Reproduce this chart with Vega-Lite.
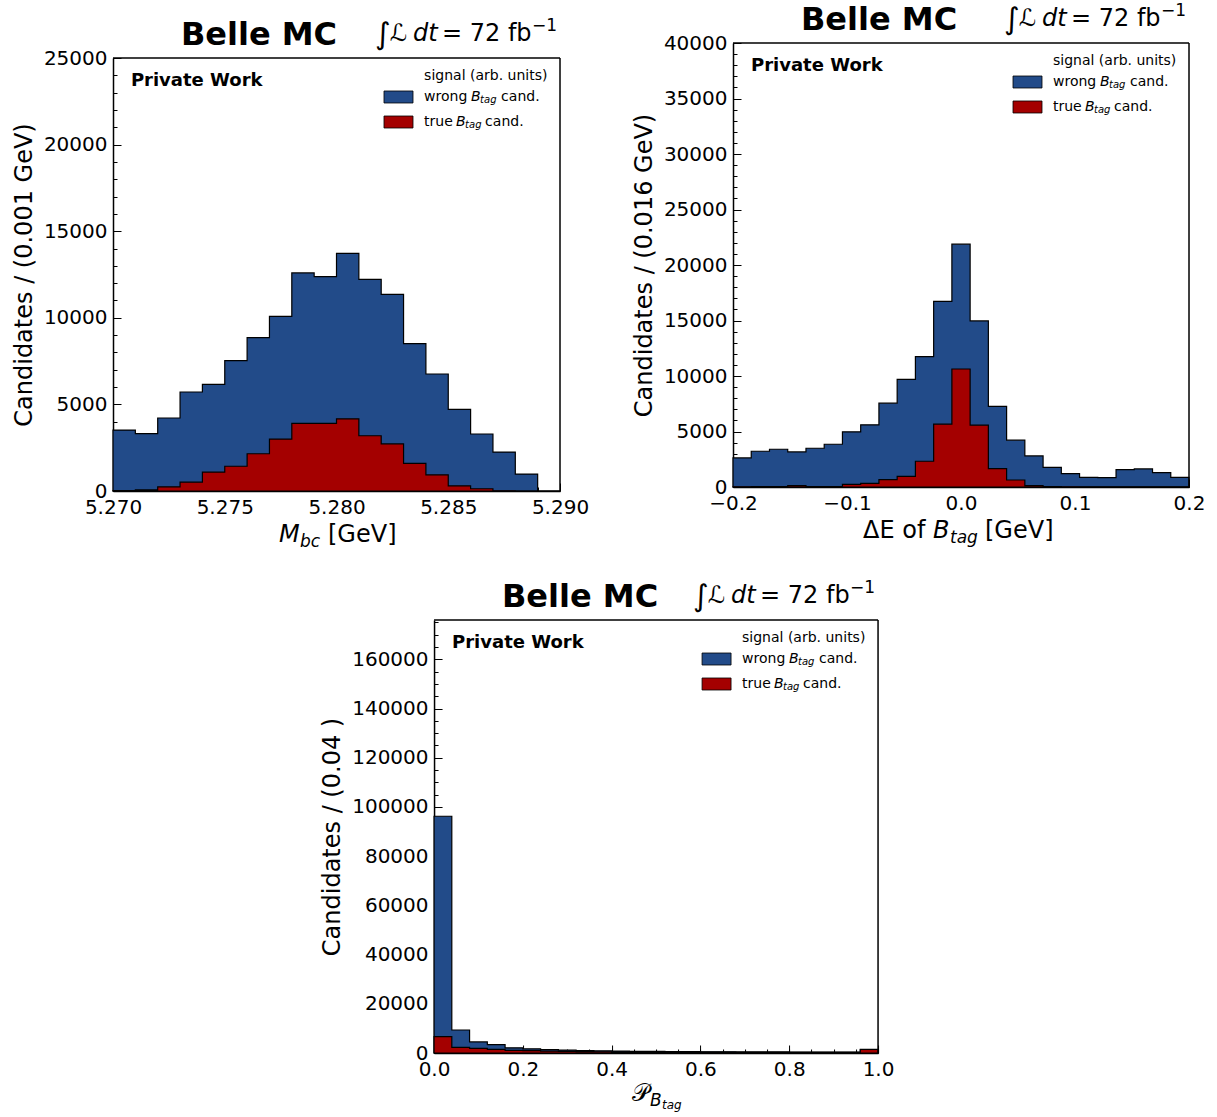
{
"$schema": "https://vega.github.io/schema/vega-lite/v6.json",
"background": "white",
"padding": {"left": 12, "top": 2, "right": 0, "bottom": 5},
"config": {
  "font": "DejaVu Sans",
  "view": {"stroke": null},
  "text": {"fill": "black", "font": "DejaVu Sans"},
  "axis": {"labelFont": "DejaVu Sans", "labelFontSize": 20, "labelColor": "black", "titleFont": "DejaVu Sans", "titleFontSize": 24, "titleFontWeight": "normal", "titleColor": "black", "domainColor": "black", "domainWidth": 1.5, "tickColor": "black", "tickWidth": 1, "grid": false, "labelFlush": false, "labelOverlap": false, "labelBound": false, "zindex": 1, "titlePadding": 7}
},
"datasets": {
  "one": [{}],
  "p1": [
    {"s":"wrong","a":5.27,"b":5.271,"n":3520},{"s":"wrong","a":5.271,"b":5.272,"n":3310},{"s":"wrong","a":5.272,"b":5.273,"n":4215},{"s":"wrong","a":5.273,"b":5.274,"n":5715},{"s":"wrong","a":5.274,"b":5.275,"n":6160},
    {"s":"wrong","a":5.275,"b":5.276,"n":7525},{"s":"wrong","a":5.276,"b":5.277,"n":8850},{"s":"wrong","a":5.277,"b":5.278,"n":10085},{"s":"wrong","a":5.278,"b":5.279,"n":12590},{"s":"wrong","a":5.279,"b":5.28,"n":12375},
    {"s":"wrong","a":5.28,"b":5.281,"n":13725},{"s":"wrong","a":5.281,"b":5.282,"n":12220},{"s":"wrong","a":5.282,"b":5.283,"n":11355},{"s":"wrong","a":5.283,"b":5.284,"n":8505},{"s":"wrong","a":5.284,"b":5.285,"n":6755},
    {"s":"wrong","a":5.285,"b":5.286,"n":4715},{"s":"wrong","a":5.286,"b":5.287,"n":3290},{"s":"wrong","a":5.287,"b":5.288,"n":2250},{"s":"wrong","a":5.288,"b":5.289,"n":980},{"s":"wrong","a":5.289,"b":5.29,"n":0},
    {"s":"true","a":5.27,"b":5.271,"n":30},{"s":"true","a":5.271,"b":5.272,"n":60},{"s":"true","a":5.272,"b":5.273,"n":240},{"s":"true","a":5.273,"b":5.274,"n":510},{"s":"true","a":5.274,"b":5.275,"n":1090},
    {"s":"true","a":5.275,"b":5.276,"n":1430},{"s":"true","a":5.276,"b":5.277,"n":2150},{"s":"true","a":5.277,"b":5.278,"n":3000},{"s":"true","a":5.278,"b":5.279,"n":3900},{"s":"true","a":5.279,"b":5.28,"n":3910},
    {"s":"true","a":5.28,"b":5.281,"n":4170},{"s":"true","a":5.281,"b":5.282,"n":3190},{"s":"true","a":5.282,"b":5.283,"n":2720},{"s":"true","a":5.283,"b":5.284,"n":1600},{"s":"true","a":5.284,"b":5.285,"n":935},
    {"s":"true","a":5.285,"b":5.286,"n":300},{"s":"true","a":5.286,"b":5.287,"n":130},{"s":"true","a":5.287,"b":5.288,"n":10},{"s":"true","a":5.288,"b":5.289,"n":0},{"s":"true","a":5.289,"b":5.29,"n":0}
  ],
  "p2": [
    {"s":"wrong","a":-0.2,"b":-0.184,"n":2620},{"s":"wrong","a":-0.184,"b":-0.168,"n":3220},{"s":"wrong","a":-0.168,"b":-0.152,"n":3400},{"s":"wrong","a":-0.152,"b":-0.136,"n":3160},{"s":"wrong","a":-0.136,"b":-0.12,"n":3490},
    {"s":"wrong","a":-0.12,"b":-0.104,"n":3850},{"s":"wrong","a":-0.104,"b":-0.088,"n":4970},{"s":"wrong","a":-0.088,"b":-0.072,"n":5600},{"s":"wrong","a":-0.072,"b":-0.056,"n":7555},{"s":"wrong","a":-0.056,"b":-0.04,"n":9690},
    {"s":"wrong","a":-0.04,"b":-0.024,"n":11740},{"s":"wrong","a":-0.024,"b":-0.008,"n":16730},{"s":"wrong","a":-0.008,"b":0.008,"n":21880},{"s":"wrong","a":0.008,"b":0.024,"n":14960},{"s":"wrong","a":0.024,"b":0.04,"n":7255},
    {"s":"wrong","a":0.04,"b":0.056,"n":4215},{"s":"wrong","a":0.056,"b":0.072,"n":2800},{"s":"wrong","a":0.072,"b":0.088,"n":1775},{"s":"wrong","a":0.088,"b":0.104,"n":1205},{"s":"wrong","a":0.104,"b":0.12,"n":875},
    {"s":"wrong","a":0.12,"b":0.136,"n":845},{"s":"wrong","a":0.136,"b":0.152,"n":1565},{"s":"wrong","a":0.152,"b":0.168,"n":1625},{"s":"wrong","a":0.168,"b":0.184,"n":1295},{"s":"wrong","a":0.184,"b":0.2,"n":875},
    {"s":"true","a":-0.2,"b":-0.184,"n":20},{"s":"true","a":-0.184,"b":-0.168,"n":30},{"s":"true","a":-0.168,"b":-0.152,"n":40},{"s":"true","a":-0.152,"b":-0.136,"n":120},{"s":"true","a":-0.136,"b":-0.12,"n":40},
    {"s":"true","a":-0.12,"b":-0.104,"n":40},{"s":"true","a":-0.104,"b":-0.088,"n":240},{"s":"true","a":-0.088,"b":-0.072,"n":330},{"s":"true","a":-0.072,"b":-0.056,"n":660},{"s":"true","a":-0.056,"b":-0.04,"n":960},
    {"s":"true","a":-0.04,"b":-0.024,"n":2320},{"s":"true","a":-0.024,"b":-0.008,"n":5660},{"s":"true","a":-0.008,"b":0.008,"n":10630},{"s":"true","a":0.008,"b":0.024,"n":5570},{"s":"true","a":0.024,"b":0.04,"n":1655},
    {"s":"true","a":0.04,"b":0.056,"n":630},{"s":"true","a":0.056,"b":0.072,"n":120},{"s":"true","a":0.072,"b":0.088,"n":30},{"s":"true","a":0.088,"b":0.104,"n":20},{"s":"true","a":0.104,"b":0.12,"n":10},
    {"s":"true","a":0.12,"b":0.136,"n":10},{"s":"true","a":0.136,"b":0.152,"n":10},{"s":"true","a":0.152,"b":0.168,"n":10},{"s":"true","a":0.168,"b":0.184,"n":10},{"s":"true","a":0.184,"b":0.2,"n":10}
  ],
  "p3": [
    {"s":"wrong","a":0,"b":0.04,"n":96240},{"s":"wrong","a":0.04,"b":0.08,"n":9340},{"s":"wrong","a":0.08,"b":0.12,"n":4500},{"s":"wrong","a":0.12,"b":0.16,"n":3400},{"s":"wrong","a":0.16,"b":0.2,"n":2100},
    {"s":"wrong","a":0.2,"b":0.24,"n":1700},{"s":"wrong","a":0.24,"b":0.28,"n":1400},{"s":"wrong","a":0.28,"b":0.32,"n":1200},{"s":"wrong","a":0.32,"b":0.36,"n":1000},{"s":"wrong","a":0.36,"b":0.4,"n":900},
    {"s":"wrong","a":0.4,"b":0.44,"n":800},{"s":"wrong","a":0.44,"b":0.48,"n":700},{"s":"wrong","a":0.48,"b":0.52,"n":650},{"s":"wrong","a":0.52,"b":0.56,"n":600},{"s":"wrong","a":0.56,"b":0.6,"n":550},
    {"s":"wrong","a":0.6,"b":0.64,"n":500},{"s":"wrong","a":0.64,"b":0.68,"n":480},{"s":"wrong","a":0.68,"b":0.72,"n":450},{"s":"wrong","a":0.72,"b":0.76,"n":430},{"s":"wrong","a":0.76,"b":0.8,"n":420},
    {"s":"wrong","a":0.8,"b":0.84,"n":400},{"s":"wrong","a":0.84,"b":0.88,"n":380},{"s":"wrong","a":0.88,"b":0.92,"n":380},{"s":"wrong","a":0.92,"b":0.96,"n":400},{"s":"wrong","a":0.96,"b":1,"n":1300},
    {"s":"true","a":0,"b":0.04,"n":6630},{"s":"true","a":0.04,"b":0.08,"n":2300},{"s":"true","a":0.08,"b":0.12,"n":1900},{"s":"true","a":0.12,"b":0.16,"n":1490},{"s":"true","a":0.16,"b":0.2,"n":1080},
    {"s":"true","a":0.2,"b":0.24,"n":950},{"s":"true","a":0.24,"b":0.28,"n":800},{"s":"true","a":0.28,"b":0.32,"n":680},{"s":"true","a":0.32,"b":0.36,"n":560},{"s":"true","a":0.36,"b":0.4,"n":500},
    {"s":"true","a":0.4,"b":0.44,"n":450},{"s":"true","a":0.44,"b":0.48,"n":420},{"s":"true","a":0.48,"b":0.52,"n":400},{"s":"true","a":0.52,"b":0.56,"n":380},{"s":"true","a":0.56,"b":0.6,"n":360},
    {"s":"true","a":0.6,"b":0.64,"n":340},{"s":"true","a":0.64,"b":0.68,"n":320},{"s":"true","a":0.68,"b":0.72,"n":310},{"s":"true","a":0.72,"b":0.76,"n":300},{"s":"true","a":0.76,"b":0.8,"n":290},
    {"s":"true","a":0.8,"b":0.84,"n":290},{"s":"true","a":0.84,"b":0.88,"n":280},{"s":"true","a":0.88,"b":0.92,"n":290},{"s":"true","a":0.92,"b":0.96,"n":300},{"s":"true","a":0.96,"b":1,"n":1500}
  ]
},
"spacing": 28,
"center": true,
"vconcat": [
 {"hconcat": [
  {"width": 447, "height": 448,
   "resolve": {"axis": {"x": "independent", "y": "independent"}},
   "layer": [
    {"data": {"name": "p1"}, "transform": [{"filter": "datum.s == 'wrong'"}, {"fold": ["a", "b"], "as": ["edge", "xv"]}],
     "mark": {"type": "area", "fill": "#224b89", "stroke": "black", "strokeWidth": 1.2},
     "encoding": {
       "x": {"field": "xv", "type": "quantitative", "scale": {"domain": [5.27, 5.29], "nice": false, "zero": false},
             "axis": {"orient": "bottom", "title": null, "values": [5.27, 5.275, 5.28, 5.285, 5.29], "format": ".3f", "tickSize": -8, "labelPadding": 14}},
       "y": {"field": "n", "type": "quantitative", "stack": null, "scale": {"domain": [0, 25000], "range": [448, 15], "nice": false},
             "axis": {"orient": "left", "title": "Candidates / (0.001 GeV)", "values": [0, 5000, 10000, 15000, 20000, 25000], "format": "d", "tickSize": -8, "labelPadding": 14}},
       "order": [{"field": "xv", "type": "quantitative"}, {"field": "edge", "type": "nominal", "sort": "descending"}]}},
    {"data": {"name": "p1"}, "transform": [{"filter": "datum.s == 'true'"}, {"fold": ["a", "b"], "as": ["edge", "xv"]}],
     "mark": {"type": "area", "fill": "#a40000", "stroke": "black", "strokeWidth": 1.2},
     "encoding": {
       "x": {"field": "xv", "type": "quantitative", "axis": {"orient": "bottom", "title": null, "labels": false, "domain": false, "tickSize": -4, "values": [5.27,5.271,5.272,5.273,5.274,5.275,5.276,5.277,5.278,5.279,5.28,5.281,5.282,5.283,5.284,5.285,5.286,5.287,5.288,5.289,5.29]}},
       "y": {"field": "n", "type": "quantitative", "stack": null, "axis": {"orient": "left", "title": null, "labels": false, "domain": false, "tickSize": -4, "values": [0,1000,2000,3000,4000,5000,6000,7000,8000,9000,10000,11000,12000,13000,14000,15000,16000,17000,18000,19000,20000,21000,22000,23000,24000,25000]}},
       "order": [{"field": "xv", "type": "quantitative"}, {"field": "edge", "type": "nominal", "sort": "descending"}]}},
    {"data": {"name": "one"}, "mark": {"type": "rule", "stroke": "black", "strokeWidth": 1.5}, "encoding": {"y": {"datum": 25000, "axis": null}}},
    {"data": {"name": "one"}, "mark": {"type": "rule", "stroke": "black", "strokeWidth": 1.5}, "encoding": {"x": {"datum": 5.29, "axis": null}, "y": {"datum": 0, "axis": null}, "y2": {"datum": 25000}}},
    {"data": {"name": "one"}, "mark": {"type": "text", "text": "Private Work", "fontWeight": "bold", "fontSize": 18, "align": "left", "baseline": "middle"}, "encoding": {"x": {"datum": 5.2708, "axis": null}, "y": {"datum": 23672, "axis": null}}},
    {"data": {"name": "one"}, "mark": {"type": "text", "text": "signal (arb. units)", "fontSize": 14, "align": "left", "baseline": "middle"}, "encoding": {"x": {"datum": 5.28392, "axis": null}, "y": {"datum": 23961, "axis": null}}},
    {"data": {"name": "one"}, "mark": {"type": "rect", "fill": "#224b89", "stroke": "black", "strokeWidth": 0.8}, "encoding": {"x": {"datum": 5.282125, "axis": null}, "x2": {"datum": 5.283423}, "y": {"datum": 23095, "axis": null}, "y2": {"datum": 22402}}},
    {"data": {"name": "one"}, "mark": {"type": "rect", "fill": "#a40000", "stroke": "black", "strokeWidth": 0.8}, "encoding": {"x": {"datum": 5.282125, "axis": null}, "x2": {"datum": 5.283423}, "y": {"datum": 21651, "axis": null}, "y2": {"datum": 20958}}},
    {"data": {"name": "one"}, "mark": {"type": "text", "text": "wrong", "fontSize": 14, "align": "left", "baseline": "middle"}, "encoding": {"x": {"datum": 5.28392, "axis": null}, "y": {"datum": 22748, "axis": null}}},
    {"data": {"name": "one"}, "mark": {"type": "text", "text": "B", "fontSize": 14, "fontStyle": "italic", "align": "left", "baseline": "middle", "dx": 47}, "encoding": {"x": {"datum": 5.28392, "axis": null}, "y": {"datum": 22748, "axis": null}}},
    {"data": {"name": "one"}, "mark": {"type": "text", "text": "tag", "fontSize": 10, "fontStyle": "italic", "align": "left", "baseline": "middle", "dx": 56, "dy": 3}, "encoding": {"x": {"datum": 5.28392, "axis": null}, "y": {"datum": 22748, "axis": null}}},
    {"data": {"name": "one"}, "mark": {"type": "text", "text": "cand.", "fontSize": 14, "align": "left", "baseline": "middle", "dx": 77}, "encoding": {"x": {"datum": 5.28392, "axis": null}, "y": {"datum": 22748, "axis": null}}},
    {"data": {"name": "one"}, "mark": {"type": "text", "text": "true", "fontSize": 14, "align": "left", "baseline": "middle"}, "encoding": {"x": {"datum": 5.28392, "axis": null}, "y": {"datum": 21305, "axis": null}}},
    {"data": {"name": "one"}, "mark": {"type": "text", "text": "B", "fontSize": 14, "fontStyle": "italic", "align": "left", "baseline": "middle", "dx": 32}, "encoding": {"x": {"datum": 5.28392, "axis": null}, "y": {"datum": 21305, "axis": null}}},
    {"data": {"name": "one"}, "mark": {"type": "text", "text": "tag", "fontSize": 10, "fontStyle": "italic", "align": "left", "baseline": "middle", "dx": 41, "dy": 3}, "encoding": {"x": {"datum": 5.28392, "axis": null}, "y": {"datum": 21305, "axis": null}}},
    {"data": {"name": "one"}, "mark": {"type": "text", "text": "cand.", "fontSize": 14, "align": "left", "baseline": "middle", "dx": 61}, "encoding": {"x": {"datum": 5.28392, "axis": null}, "y": {"datum": 21305, "axis": null}}},
    {"data": {"name": "one"}, "mark": {"type": "text", "text": "Belle MC", "fontWeight": "bold", "fontSize": 32, "align": "center", "baseline": "alphabetic"}, "encoding": {"x": {"datum": 5.276532, "axis": null}, "y": {"datum": 25751, "axis": null}}},
    {"data": {"name": "one"}, "mark": {"type": "text", "text": "∫", "fontSize": 30, "align": "left", "baseline": "alphabetic", "dy": 3}, "encoding": {"x": {"datum": 5.281723, "axis": null}, "y": {"datum": 25982, "axis": null}}},
    {"data": {"name": "one"}, "mark": {"type": "text", "text": "ℒ", "fontSize": 24, "align": "left", "baseline": "alphabetic"}, "encoding": {"x": {"datum": 5.282394, "axis": null}, "y": {"datum": 25982, "axis": null}}},
    {"data": {"name": "one"}, "mark": {"type": "text", "text": "dt", "fontSize": 24, "fontStyle": "italic", "align": "left", "baseline": "alphabetic"}, "encoding": {"x": {"datum": 5.283423, "axis": null}, "y": {"datum": 25982, "axis": null}}},
    {"data": {"name": "one"}, "mark": {"type": "text", "text": "= 72 fb", "fontSize": 24, "align": "left", "baseline": "alphabetic"}, "encoding": {"x": {"datum": 5.28472, "axis": null}, "y": {"datum": 25982, "axis": null}}},
    {"data": {"name": "one"}, "mark": {"type": "text", "text": "−1", "fontSize": 17, "align": "left", "baseline": "alphabetic"}, "encoding": {"x": {"datum": 5.288747, "axis": null}, "y": {"datum": 26559, "axis": null}}},
    {"data": {"name": "one"}, "mark": {"type": "text", "text": "M", "fontSize": 24, "fontStyle": "italic", "align": "left", "baseline": "alphabetic"}, "encoding": {"x": {"datum": 5.277427, "axis": null}, "y": {"datum": -2945, "axis": null}}},
    {"data": {"name": "one"}, "mark": {"type": "text", "text": "bc", "fontSize": 17, "fontStyle": "italic", "align": "left", "baseline": "alphabetic"}, "encoding": {"x": {"datum": 5.278367, "axis": null}, "y": {"datum": -3233, "axis": null}}},
    {"data": {"name": "one"}, "mark": {"type": "text", "text": "[GeV]", "fontSize": 24, "align": "left", "baseline": "alphabetic"}, "encoding": {"x": {"datum": 5.27962, "axis": null}, "y": {"datum": -2945, "axis": null}}}
   ]},
  {"width": 456, "height": 444,
   "resolve": {"axis": {"x": "independent", "y": "independent"}},
   "layer": [
    {"data": {"name": "p2"}, "transform": [{"filter": "datum.s == 'wrong'"}, {"fold": ["a", "b"], "as": ["edge", "xv"]}],
     "mark": {"type": "area", "fill": "#224b89", "stroke": "black", "strokeWidth": 1.2},
     "encoding": {
       "x": {"field": "xv", "type": "quantitative", "scale": {"domain": [-0.2, 0.2], "nice": false, "zero": false},
             "axis": {"orient": "bottom", "title": null, "values": [-0.2, -0.1, 0, 0.1, 0.2], "format": ".1f", "tickSize": -8, "labelPadding": 14}},
       "y": {"field": "n", "type": "quantitative", "stack": null, "scale": {"domain": [0, 40000], "nice": false},
             "axis": {"orient": "left", "title": "Candidates / (0.016 GeV)", "values": [0, 5000, 10000, 15000, 20000, 25000, 30000, 35000, 40000], "format": "d", "tickSize": -8, "labelPadding": 14}},
       "order": [{"field": "xv", "type": "quantitative"}, {"field": "edge", "type": "nominal", "sort": "descending"}]}},
    {"data": {"name": "p2"}, "transform": [{"filter": "datum.s == 'true'"}, {"fold": ["a", "b"], "as": ["edge", "xv"]}],
     "mark": {"type": "area", "fill": "#a40000", "stroke": "black", "strokeWidth": 1.2},
     "encoding": {
       "x": {"field": "xv", "type": "quantitative", "axis": {"orient": "bottom", "title": null, "labels": false, "domain": false, "tickSize": -4, "values": [-0.2,-0.18,-0.16,-0.14,-0.12,-0.1,-0.08,-0.06,-0.04,-0.02,0,0.02,0.04,0.06,0.08,0.1,0.12,0.14,0.16,0.18,0.2]}},
       "y": {"field": "n", "type": "quantitative", "stack": null, "axis": {"orient": "left", "title": null, "labels": false, "domain": false, "tickSize": -4, "values": [0,1000,2000,3000,4000,5000,6000,7000,8000,9000,10000,11000,12000,13000,14000,15000,16000,17000,18000,19000,20000,21000,22000,23000,24000,25000,26000,27000,28000,29000,30000,31000,32000,33000,34000,35000,36000,37000,38000,39000,40000]}},
       "order": [{"field": "xv", "type": "quantitative"}, {"field": "edge", "type": "nominal", "sort": "descending"}]}},
    {"data": {"name": "one"}, "mark": {"type": "rule", "stroke": "black", "strokeWidth": 1.5}, "encoding": {"y": {"datum": 40000, "axis": null}}},
    {"data": {"name": "one"}, "mark": {"type": "rule", "stroke": "black", "strokeWidth": 1.5}, "encoding": {"x": {"datum": 0.2, "axis": null}, "y": {"datum": 0, "axis": null}, "y2": {"datum": 40000}}},
    {"data": {"name": "one"}, "mark": {"type": "rule", "stroke": "white", "strokeOpacity": 0}, "encoding": {"x": {"datum": 0.2, "axis": null}, "x2": {"datum": 0.2228}, "y": {"datum": 0, "axis": null}}},
    {"data": {"name": "one"}, "mark": {"type": "text", "text": "Private Work", "fontWeight": "bold", "fontSize": 18, "align": "left", "baseline": "middle"}, "encoding": {"x": {"datum": -0.18421, "axis": null}, "y": {"datum": 37928, "axis": null}}},
    {"data": {"name": "one"}, "mark": {"type": "text", "text": "signal (arb. units)", "fontSize": 14, "align": "left", "baseline": "middle"}, "encoding": {"x": {"datum": 0.0807, "axis": null}, "y": {"datum": 38378, "axis": null}}},
    {"data": {"name": "one"}, "mark": {"type": "rect", "fill": "#224b89", "stroke": "black", "strokeWidth": 0.8}, "encoding": {"x": {"datum": 0.045614, "axis": null}, "x2": {"datum": 0.071053}, "y": {"datum": 37027, "axis": null}, "y2": {"datum": 35946}}},
    {"data": {"name": "one"}, "mark": {"type": "rect", "fill": "#a40000", "stroke": "black", "strokeWidth": 0.8}, "encoding": {"x": {"datum": 0.045614, "axis": null}, "x2": {"datum": 0.071053}, "y": {"datum": 34775, "axis": null}, "y2": {"datum": 33694}}},
    {"data": {"name": "one"}, "mark": {"type": "text", "text": "wrong", "fontSize": 14, "align": "left", "baseline": "middle"}, "encoding": {"x": {"datum": 0.0807, "axis": null}, "y": {"datum": 36486, "axis": null}}},
    {"data": {"name": "one"}, "mark": {"type": "text", "text": "B", "fontSize": 14, "fontStyle": "italic", "align": "left", "baseline": "middle", "dx": 47}, "encoding": {"x": {"datum": 0.0807, "axis": null}, "y": {"datum": 36486, "axis": null}}},
    {"data": {"name": "one"}, "mark": {"type": "text", "text": "tag", "fontSize": 10, "fontStyle": "italic", "align": "left", "baseline": "middle", "dx": 56, "dy": 3}, "encoding": {"x": {"datum": 0.0807, "axis": null}, "y": {"datum": 36486, "axis": null}}},
    {"data": {"name": "one"}, "mark": {"type": "text", "text": "cand.", "fontSize": 14, "align": "left", "baseline": "middle", "dx": 77}, "encoding": {"x": {"datum": 0.0807, "axis": null}, "y": {"datum": 36486, "axis": null}}},
    {"data": {"name": "one"}, "mark": {"type": "text", "text": "true", "fontSize": 14, "align": "left", "baseline": "middle"}, "encoding": {"x": {"datum": 0.0807, "axis": null}, "y": {"datum": 34234, "axis": null}}},
    {"data": {"name": "one"}, "mark": {"type": "text", "text": "B", "fontSize": 14, "fontStyle": "italic", "align": "left", "baseline": "middle", "dx": 32}, "encoding": {"x": {"datum": 0.0807, "axis": null}, "y": {"datum": 34234, "axis": null}}},
    {"data": {"name": "one"}, "mark": {"type": "text", "text": "tag", "fontSize": 10, "fontStyle": "italic", "align": "left", "baseline": "middle", "dx": 41, "dy": 3}, "encoding": {"x": {"datum": 0.0807, "axis": null}, "y": {"datum": 34234, "axis": null}}},
    {"data": {"name": "one"}, "mark": {"type": "text", "text": "cand.", "fontSize": 14, "align": "left", "baseline": "middle", "dx": 61}, "encoding": {"x": {"datum": 0.0807, "axis": null}, "y": {"datum": 34234, "axis": null}}},
    {"data": {"name": "one"}, "mark": {"type": "text", "text": "Belle MC", "fontWeight": "bold", "fontSize": 32, "align": "center", "baseline": "alphabetic"}, "encoding": {"x": {"datum": -0.07193, "axis": null}, "y": {"datum": 41171, "axis": null}}},
    {"data": {"name": "one"}, "mark": {"type": "text", "text": "∫", "fontSize": 30, "align": "left", "baseline": "alphabetic", "dy": 3}, "encoding": {"x": {"datum": 0.037719, "axis": null}, "y": {"datum": 41532, "axis": null}}},
    {"data": {"name": "one"}, "mark": {"type": "text", "text": "ℒ", "fontSize": 24, "align": "left", "baseline": "alphabetic"}, "encoding": {"x": {"datum": 0.050877, "axis": null}, "y": {"datum": 41532, "axis": null}}},
    {"data": {"name": "one"}, "mark": {"type": "text", "text": "dt", "fontSize": 24, "fontStyle": "italic", "align": "left", "baseline": "alphabetic"}, "encoding": {"x": {"datum": 0.071053, "axis": null}, "y": {"datum": 41532, "axis": null}}},
    {"data": {"name": "one"}, "mark": {"type": "text", "text": "= 72 fb", "fontSize": 24, "align": "left", "baseline": "alphabetic"}, "encoding": {"x": {"datum": 0.096491, "axis": null}, "y": {"datum": 41532, "axis": null}}},
    {"data": {"name": "one"}, "mark": {"type": "text", "text": "−1", "fontSize": 17, "align": "left", "baseline": "alphabetic"}, "encoding": {"x": {"datum": 0.175439, "axis": null}, "y": {"datum": 42432, "axis": null}}},
    {"data": {"name": "one"}, "mark": {"type": "text", "text": "ΔE of", "fontSize": 24, "align": "left", "baseline": "alphabetic"}, "encoding": {"x": {"datum": -0.085965, "axis": null}, "y": {"datum": -4595, "axis": null}}},
    {"data": {"name": "one"}, "mark": {"type": "text", "text": "B", "fontSize": 24, "fontStyle": "italic", "align": "left", "baseline": "alphabetic"}, "encoding": {"x": {"datum": -0.024561, "axis": null}, "y": {"datum": -4595, "axis": null}}},
    {"data": {"name": "one"}, "mark": {"type": "text", "text": "tag", "fontSize": 17, "fontStyle": "italic", "align": "left", "baseline": "alphabetic"}, "encoding": {"x": {"datum": -0.009649, "axis": null}, "y": {"datum": -5045, "axis": null}}},
    {"data": {"name": "one"}, "mark": {"type": "text", "text": "[GeV]", "fontSize": 24, "align": "left", "baseline": "alphabetic"}, "encoding": {"x": {"datum": 0.021053, "axis": null}, "y": {"datum": -4595, "axis": null}}}
   ]}
 ], "spacing": 43},
 {"width": 444, "height": 433,
  "resolve": {"axis": {"x": "independent", "y": "independent"}},
  "layer": [
    {"data": {"name": "p3"}, "transform": [{"filter": "datum.s == 'wrong'"}, {"fold": ["a", "b"], "as": ["edge", "xv"]}],
     "mark": {"type": "area", "fill": "#224b89", "stroke": "black", "strokeWidth": 1.2},
     "encoding": {
       "x": {"field": "xv", "type": "quantitative", "scale": {"domain": [0, 1], "nice": false, "zero": false},
             "axis": {"orient": "bottom", "title": null, "values": [0, 0.2, 0.4, 0.6, 0.8, 1], "format": ".1f", "tickSize": -8, "labelPadding": 14}},
       "y": {"field": "n", "type": "quantitative", "stack": null, "scale": {"domain": [0, 176000], "nice": false},
             "axis": {"orient": "left", "title": "Candidates / (0.04 )", "values": [0, 20000, 40000, 60000, 80000, 100000, 120000, 140000, 160000], "format": "d", "tickSize": -8, "labelPadding": 14}},
       "order": [{"field": "xv", "type": "quantitative"}, {"field": "edge", "type": "nominal", "sort": "descending"}]}},
    {"data": {"name": "p3"}, "transform": [{"filter": "datum.s == 'true'"}, {"fold": ["a", "b"], "as": ["edge", "xv"]}],
     "mark": {"type": "area", "fill": "#a40000", "stroke": "black", "strokeWidth": 1.2},
     "encoding": {
       "x": {"field": "xv", "type": "quantitative", "axis": {"orient": "bottom", "title": null, "labels": false, "domain": false, "tickSize": -4, "values": [0,0.05,0.1,0.15,0.2,0.25,0.3,0.35,0.4,0.45,0.5,0.55,0.6,0.65,0.7,0.75,0.8,0.85,0.9,0.95,1]}},
       "y": {"field": "n", "type": "quantitative", "stack": null, "axis": {"orient": "left", "title": null, "labels": false, "domain": false, "tickSize": -4, "values": [0,5000,10000,15000,20000,25000,30000,35000,40000,45000,50000,55000,60000,65000,70000,75000,80000,85000,90000,95000,100000,105000,110000,115000,120000,125000,130000,135000,140000,145000,150000,155000,160000,165000,170000,175000]}},
       "order": [{"field": "xv", "type": "quantitative"}, {"field": "edge", "type": "nominal", "sort": "descending"}]}},
    {"data": {"name": "one"}, "mark": {"type": "rule", "stroke": "black", "strokeWidth": 1.5}, "encoding": {"y": {"datum": 176000, "axis": null}}},
    {"data": {"name": "one"}, "mark": {"type": "rule", "stroke": "black", "strokeWidth": 1.5}, "encoding": {"x": {"datum": 1, "axis": null}, "y": {"datum": 0, "axis": null}, "y2": {"datum": 176000}}},
    {"data": {"name": "one"}, "mark": {"type": "text", "text": "Private Work", "fontWeight": "bold", "fontSize": 18, "align": "left", "baseline": "middle"}, "encoding": {"x": {"datum": 0.040541, "axis": null}, "y": {"datum": 166651, "axis": null}}},
    {"data": {"name": "one"}, "mark": {"type": "text", "text": "signal (arb. units)", "fontSize": 14, "align": "left", "baseline": "middle"}, "encoding": {"x": {"datum": 0.693694, "axis": null}, "y": {"datum": 168684, "axis": null}}},
    {"data": {"name": "one"}, "mark": {"type": "rect", "fill": "#224b89", "stroke": "black", "strokeWidth": 0.8}, "encoding": {"x": {"datum": 0.603604, "axis": null}, "x2": {"datum": 0.668919}, "y": {"datum": 162586, "axis": null}, "y2": {"datum": 157709}}},
    {"data": {"name": "one"}, "mark": {"type": "rect", "fill": "#a40000", "stroke": "black", "strokeWidth": 0.8}, "encoding": {"x": {"datum": 0.603604, "axis": null}, "x2": {"datum": 0.668919}, "y": {"datum": 152425, "axis": null}, "y2": {"datum": 147547}}},
    {"data": {"name": "one"}, "mark": {"type": "text", "text": "wrong", "fontSize": 14, "align": "left", "baseline": "middle"}, "encoding": {"x": {"datum": 0.693694, "axis": null}, "y": {"datum": 160148, "axis": null}}},
    {"data": {"name": "one"}, "mark": {"type": "text", "text": "B", "fontSize": 14, "fontStyle": "italic", "align": "left", "baseline": "middle", "dx": 47}, "encoding": {"x": {"datum": 0.693694, "axis": null}, "y": {"datum": 160148, "axis": null}}},
    {"data": {"name": "one"}, "mark": {"type": "text", "text": "tag", "fontSize": 10, "fontStyle": "italic", "align": "left", "baseline": "middle", "dx": 56, "dy": 3}, "encoding": {"x": {"datum": 0.693694, "axis": null}, "y": {"datum": 160148, "axis": null}}},
    {"data": {"name": "one"}, "mark": {"type": "text", "text": "cand.", "fontSize": 14, "align": "left", "baseline": "middle", "dx": 77}, "encoding": {"x": {"datum": 0.693694, "axis": null}, "y": {"datum": 160148, "axis": null}}},
    {"data": {"name": "one"}, "mark": {"type": "text", "text": "true", "fontSize": 14, "align": "left", "baseline": "middle"}, "encoding": {"x": {"datum": 0.693694, "axis": null}, "y": {"datum": 149986, "axis": null}}},
    {"data": {"name": "one"}, "mark": {"type": "text", "text": "B", "fontSize": 14, "fontStyle": "italic", "align": "left", "baseline": "middle", "dx": 32}, "encoding": {"x": {"datum": 0.693694, "axis": null}, "y": {"datum": 149986, "axis": null}}},
    {"data": {"name": "one"}, "mark": {"type": "text", "text": "tag", "fontSize": 10, "fontStyle": "italic", "align": "left", "baseline": "middle", "dx": 41, "dy": 3}, "encoding": {"x": {"datum": 0.693694, "axis": null}, "y": {"datum": 149986, "axis": null}}},
    {"data": {"name": "one"}, "mark": {"type": "text", "text": "cand.", "fontSize": 14, "align": "left", "baseline": "middle", "dx": 61}, "encoding": {"x": {"datum": 0.693694, "axis": null}, "y": {"datum": 149986, "axis": null}}},
    {"data": {"name": "one"}, "mark": {"type": "text", "text": "Belle MC", "fontWeight": "bold", "fontSize": 32, "align": "center", "baseline": "alphabetic"}, "encoding": {"x": {"datum": 0.328829, "axis": null}, "y": {"datum": 181284, "axis": null}}},
    {"data": {"name": "one"}, "mark": {"type": "text", "text": "∫", "fontSize": 30, "align": "left", "baseline": "alphabetic", "dy": 3}, "encoding": {"x": {"datum": 0.583333, "axis": null}, "y": {"datum": 182910, "axis": null}}},
    {"data": {"name": "one"}, "mark": {"type": "text", "text": "ℒ", "fontSize": 24, "align": "left", "baseline": "alphabetic"}, "encoding": {"x": {"datum": 0.617117, "axis": null}, "y": {"datum": 182910, "axis": null}}},
    {"data": {"name": "one"}, "mark": {"type": "text", "text": "dt", "fontSize": 24, "fontStyle": "italic", "align": "left", "baseline": "alphabetic"}, "encoding": {"x": {"datum": 0.668919, "axis": null}, "y": {"datum": 182910, "axis": null}}},
    {"data": {"name": "one"}, "mark": {"type": "text", "text": "= 72 fb", "fontSize": 24, "align": "left", "baseline": "alphabetic"}, "encoding": {"x": {"datum": 0.734234, "axis": null}, "y": {"datum": 182910, "axis": null}}},
    {"data": {"name": "one"}, "mark": {"type": "text", "text": "−1", "fontSize": 17, "align": "left", "baseline": "alphabetic"}, "encoding": {"x": {"datum": 0.936937, "axis": null}, "y": {"datum": 186975, "axis": null}}},
    {"data": {"name": "one"}, "mark": {"type": "text", "text": "𝒫", "fontSize": 24, "align": "left", "baseline": "alphabetic"}, "encoding": {"x": {"datum": 0.445946, "axis": null}, "y": {"datum": -19511, "axis": null}}},
    {"data": {"name": "one"}, "mark": {"type": "text", "text": "B", "fontSize": 17, "fontStyle": "italic", "align": "left", "baseline": "alphabetic"}, "encoding": {"x": {"datum": 0.486486, "axis": null}, "y": {"datum": -21543, "axis": null}}},
    {"data": {"name": "one"}, "mark": {"type": "text", "text": "tag", "fontSize": 12, "fontStyle": "italic", "align": "left", "baseline": "alphabetic"}, "encoding": {"x": {"datum": 0.513514, "axis": null}, "y": {"datum": -22762, "axis": null}}}
  ]}
]
}
